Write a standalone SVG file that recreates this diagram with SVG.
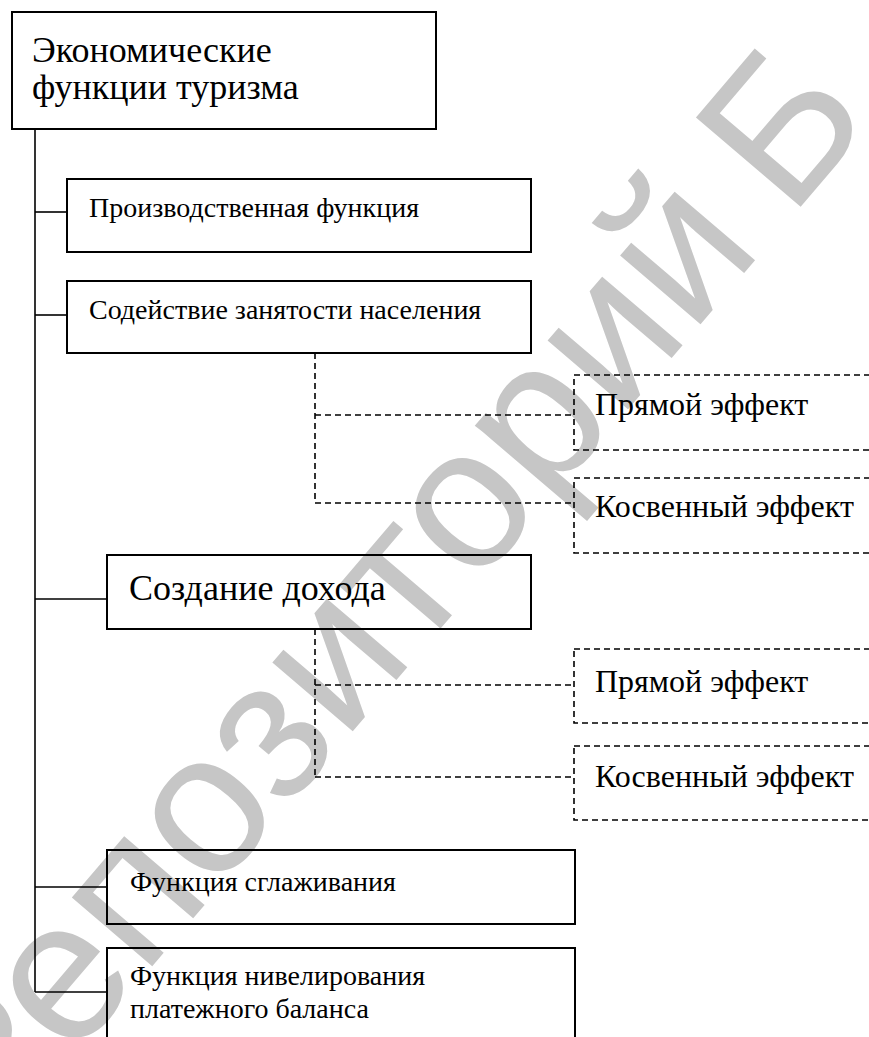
<svg xmlns="http://www.w3.org/2000/svg" width="869" height="1037" viewBox="0 0 869 1037">
<style>
.box{fill:none;stroke:#000;stroke-width:2}
.dbox{fill:none;stroke:#000;stroke-width:1.6;stroke-dasharray:6 4}
.ln{fill:none;stroke:#000;stroke-width:1.6}
.dl{fill:none;stroke:#000;stroke-width:1.6;stroke-dasharray:6 4}
.t{font-family:'Liberation Serif','Times New Roman',serif;fill:#000}
.wm{font-family:'Liberation Sans',Arial,sans-serif;fill:#c6c6c6;font-size:200px}
</style>
<rect width="869" height="1037" fill="#fff"/>
<g id="watermark"><text class="wm" transform="translate(-10,1156) rotate(-49.5)">Репозиторий<tspan dx="40">Б</tspan></text></g>
<g id="connectors">
<line class="ln" x1="35" y1="129" x2="35" y2="992"/>
<line class="ln" x1="35" y1="212" x2="67" y2="212"/>
<line class="ln" x1="35" y1="315" x2="67" y2="315"/>
<line class="ln" x1="35" y1="599" x2="107" y2="599"/>
<line class="ln" x1="35" y1="887" x2="107" y2="887"/>
<line class="ln" x1="35" y1="992" x2="107" y2="992"/>
<path class="dl" d="M315,353 V503 M315,415 H574 M315,503 H574"/>
<path class="dl" d="M315,629 V777 M315,685 H574 M315,777 H574"/>
</g>
<g id="n-title"><rect class="box" x="12" y="12" width="424" height="117"/>
<text class="t" font-size="36" x="32" y="62">Экономические</text>
<text class="t" font-size="36" x="32" y="99">функции туризма</text></g>
<g id="n-prod"><rect class="box" x="67" y="179" width="464" height="73"/>
<text class="t" font-size="28" x="89" y="217">Производственная функция</text></g>
<g id="n-empl"><rect class="box" x="67" y="281" width="464" height="72"/>
<text class="t" font-size="28" x="89" y="319">Содействие занятости населения</text></g>
<g id="n-e1"><rect class="dbox" x="574" y="375" width="330" height="75"/>
<text class="t" font-size="32" x="595" y="415">Прямой эффект</text></g>
<g id="n-e2"><rect class="dbox" x="574" y="478" width="330" height="75"/>
<text class="t" font-size="32" x="595" y="517">Косвенный эффект</text></g>
<g id="n-income"><rect class="box" x="107" y="555" width="424" height="74"/>
<text class="t" font-size="36" x="129" y="600">Создание дохода</text></g>
<g id="n-e3"><rect class="dbox" x="574" y="649" width="330" height="74"/>
<text class="t" font-size="32" x="595" y="692">Прямой эффект</text></g>
<g id="n-e4"><rect class="dbox" x="574" y="746" width="330" height="74"/>
<text class="t" font-size="32" x="595" y="787">Косвенный эффект</text></g>
<g id="n-smooth"><rect class="box" x="107" y="850" width="468" height="74"/>
<text class="t" font-size="28" x="130" y="891">Функция сглаживания</text></g>
<g id="n-balance"><rect class="box" x="107" y="948" width="468" height="120"/>
<text class="t" font-size="28" x="130" y="985">Функция нивелирования</text>
<text class="t" font-size="28" x="130" y="1018">платежного баланса</text></g>
</svg>
